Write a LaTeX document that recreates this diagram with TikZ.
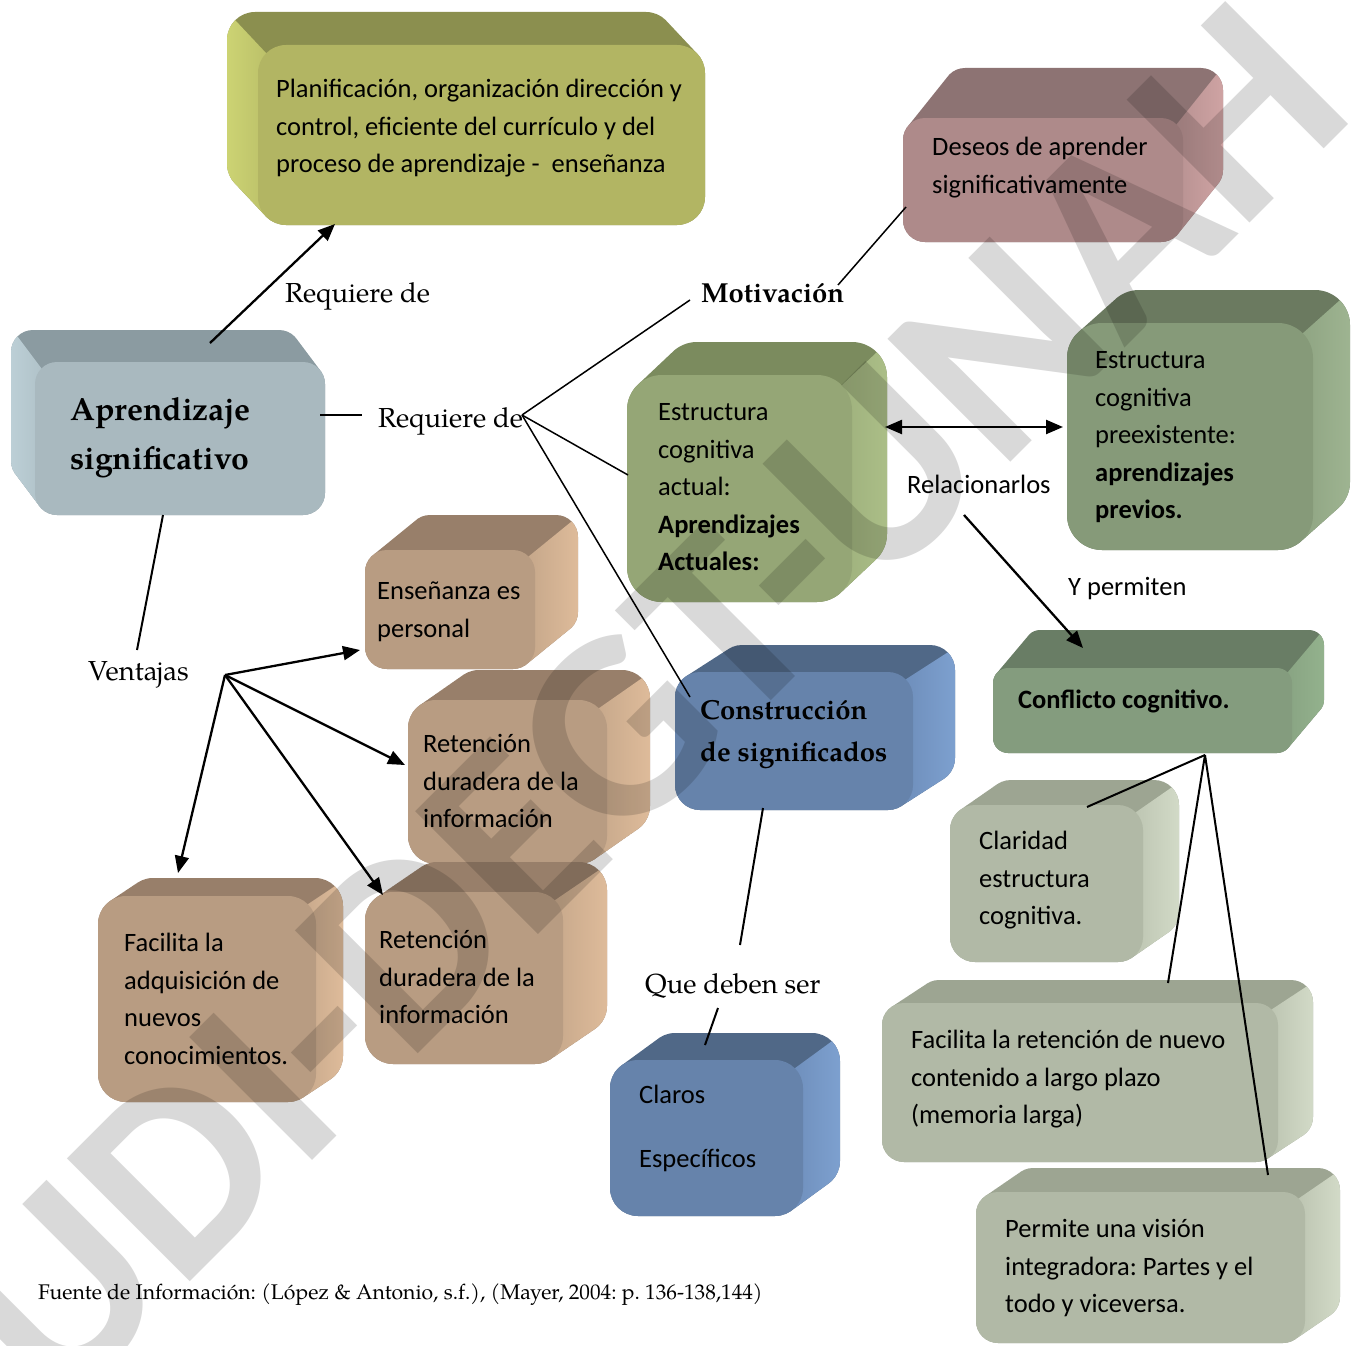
\documentclass[tikz,border=0pt]{standalone}
\usepackage{fontspec}
\setmainfont{TeX Gyre Pagella}
\setsansfont{Carlito}
\newfontfamily\markfont{Carlito}
\usetikzlibrary{arrows.meta}
\frenchspacing

% palettes: F front, T top, S outer side, D inner side
\definecolor{planF}{HTML}{B2B563}\definecolor{planT}{HTML}{8B8F4F}\definecolor{planS}{HTML}{CCD373}\definecolor{planD}{HTML}{B4B865}
\definecolor{aprF}{HTML}{A9B9BF}\definecolor{aprT}{HTML}{8B9BA1}\definecolor{aprS}{HTML}{BCCFD6}\definecolor{aprD}{HTML}{ABBCC2}
\definecolor{desF}{HTML}{AE8A8A}\definecolor{desT}{HTML}{8D7373}\definecolor{desS}{HTML}{CFA3A3}\definecolor{desD}{HTML}{B08C8C}
\definecolor{actF}{HTML}{95A676}\definecolor{actT}{HTML}{7B8B5E}\definecolor{actS}{HTML}{ABBE87}\definecolor{actD}{HTML}{98AA78}
\definecolor{preF}{HTML}{869A79}\definecolor{preT}{HTML}{6B7A60}\definecolor{preS}{HTML}{9EB491}\definecolor{preD}{HTML}{889D7C}
\definecolor{cflF}{HTML}{849C7E}\definecolor{cflT}{HTML}{697D65}\definecolor{cflS}{HTML}{93B28D}\definecolor{cflD}{HTML}{86A080}
\definecolor{blueF}{HTML}{6683AB}\definecolor{blueT}{HTML}{506887}\definecolor{blueS}{HTML}{7DA0CF}\definecolor{blueD}{HTML}{6A89B5}
\definecolor{tanF}{HTML}{B89C82}\definecolor{tanT}{HTML}{987F6A}\definecolor{tanS}{HTML}{DEBB9A}\definecolor{tanD}{HTML}{BFA286}
\definecolor{ggF}{HTML}{B1B9A6}\definecolor{ggT}{HTML}{9DA592}\definecolor{ggS}{HTML}{D2DAC7}\definecolor{ggD}{HTML}{B6BEAB}

\newcommand{\lead}{\rule{0pt}{0.8em}}

% 3D rounded block: #1 name, #2-#5 front face x1 y1 x2 y2, #6 #7 depth offset, #8 radius, #9 palette
\newcommand{\solid}[9]{%
  \pgfmathsetmacro\bw{#4-#2}%
  \pgfmathsetmacro\bh{#5-#3}%
  \fill[#9T, rounded corners=#8pt] \foreach \k in {0,...,20}{ ({#2+#6*\k/20},{#3+#7*\k/20}) rectangle ++(\bw,\bh) };
  \begin{scope}
    \ifdim #6pt>0pt
      \clip (#4-0.3*#8, #3+0.3*#8) -- ++(2*#6, 2*#7) -- (#4+#6+60, #3+2*#7) -- (#4+#6+60, #5+60) -- (#4-0.3*#8, #5+60) -- cycle;
      \clip[rounded corners=#8pt] \foreach \k in {0,...,20}{ ({#2+#6*\k/20},{#3+#7*\k/20}) rectangle ++(\bw,\bh) };
      \shade[left color=#9D, right color=#9S] (#4-#8, #3+2*#7) rectangle (#4+#6, #5+60);
    \else
      \clip (#2+0.3*#8, #3+0.3*#8) -- ++(2*#6, 2*#7) -- (#2+#6-60, #3+2*#7) -- (#2+#6-60, #5+60) -- (#2+0.3*#8, #5+60) -- cycle;
      \clip[rounded corners=#8pt] \foreach \k in {0,...,20}{ ({#2+#6*\k/20},{#3+#7*\k/20}) rectangle ++(\bw,\bh) };
      \shade[left color=#9S, right color=#9D] (#2+#6, #3+2*#7) rectangle (#2+#8, #5+60);
    \fi
  \end{scope}
  \node[fill=#9F, rounded corners=#8pt, minimum width=\bw pt, minimum height=\bh pt,
        inner sep=0pt, outer sep=0pt, anchor=north west] (#1) at (#2,#3) {};
}

\tikzset{
  boxtext/.style={anchor=north west, inner sep=0pt, align=left, font=\sffamily\fontsize{26.5}{37.5}\selectfont},
  lab/.style={anchor=base west, inner sep=0pt, font=\rmfamily\fontsize{27.5}{33}\selectfont},
  sflab/.style={anchor=base west, inner sep=0pt, font=\sffamily\fontsize{26.5}{33}\selectfont},
  arr/.style={-{Triangle[length=17pt,width=14pt]}, line width=2.3pt},
  dblarr/.style={{Triangle[length=17pt,width=14pt]}-{Triangle[length=17pt,width=14pt]}, line width=2.3pt},
  thin/.style={line width=1.5pt},
  mid/.style={line width=2pt}
}

\begin{document}
\begin{tikzpicture}[x=1pt,y=-1pt]
\useasboundingbox (0,0) rectangle (1361,1346);
\fill[white] (0,0) rectangle (1361,1346);

% blocks
\solid{plan}{258}{45}{705}{225}{-31}{-33}{28}{plan}
\solid{apr}{35}{362}{325}{515}{-24}{-32}{22}{apr}
\solid{des}{903}{118}{1183}{242}{40}{-50}{22}{des}
\solid{act}{627}{375}{852}{602}{35}{-33}{35}{act}
\solid{pre}{1067}{323}{1313}{550}{37}{-33}{35}{pre}
\solid{ens}{365}{550}{535}{669}{43}{-35}{22}{tan}
\solid{ret1}{408}{700}{607}{864}{43}{-30}{28}{tan}
\solid{ret2}{365}{892}{563}{1064}{44}{-30}{28}{tan}
\solid{fac}{98}{896}{316}{1102}{27}{-18}{28}{tan}
\solid{con}{675}{672}{913}{810}{42}{-27}{25}{blue}
\solid{clr}{610}{1060}{803}{1216}{37}{-27}{28}{blue}
\solid{cfl}{993}{668}{1292}{753}{32}{-38}{15}{cfl}
\solid{cla}{950}{805}{1143}{962}{36}{-25}{25}{gg}
\solid{fre}{882}{1003}{1278}{1162}{35}{-23}{22}{gg}
\solid{per}{976}{1192}{1305}{1343}{35}{-24}{22}{gg}

% block texts
\node[boxtext] (plan-t) at (276,76.3) {\lead Planificación, organización dirección y\\control, eficiente del currículo y del\\proceso de aprendizaje -\ \ enseñanza};
\node[boxtext, font=\rmfamily\bfseries\fontsize{32}{49}\selectfont] (apr-t) at (70,394.4) {\lead Aprendizaje\\significativo};
\node[boxtext] (des-t) at (932,134.3) {\lead Deseos de aprender\\significativamente};
\node[boxtext] (act-t) at (658,399.3) {\lead Estructura\\cognitiva\\actual:\\\textbf{Aprendizajes}\\\textbf{Actuales:}};
\node[boxtext] (pre-t) at (1095,347.3) {\lead Estructura\\cognitiva\\preexistente:\\\textbf{aprendizajes}\\\textbf{previos.}};
\node[boxtext] (ens-t) at (377,578.3) {\lead Enseñanza es\\personal};
\node[boxtext] (ret1-t) at (423,731.3) {\lead Retención\\duradera de la\\información};
\node[boxtext, font=\rmfamily\bfseries\fontsize{27.5}{42}\selectfont] (con-t) at (700,697) {\lead Construcción\\de significados};
\node[boxtext] (cfl-t) at (1018,687.3) {\lead\textbf{Conflicto cognitivo.}};
\node[boxtext] (cla-t) at (979,828.3) {\lead Claridad\\estructura\\cognitiva.};
\node[boxtext] (fac-t) at (124,930.3) {\lead Facilita la\\adquisición de\\nuevos\\conocimientos.};
\node[boxtext] (ret2-t) at (379,927.3) {\lead Retención\\duradera de la\\información};
\node[boxtext] (clr-t) at (639,1082.3) {\lead Claros\\[26.5pt]Específicos};
\node[boxtext] (fre-t) at (911,1027.3) {\lead Facilita la retención de nuevo\\contenido a largo plazo\\(memoria larga)};
\node[boxtext] (per-t) at (1005,1216.3) {\lead Permite una visión\\integradora: Partes y el\\todo y viceversa.};

% connector labels
\node[lab] (req1) at (285,302) {Requiere de};
\node[lab] (req2) at (378,427) {Requiere de};
\node[lab] (mot) at (701,302) {\textbf{Motivación}};
\node[sflab] (rel) at (907,493.5) {Relacionarlos};
\node[sflab] (yper) at (1068,595.5) {Y permiten};
\node[lab] (ven) at (88,680) {Ventajas};
\node[lab] (que) at (645,993) {Que deben ser};
\node[lab, font=\rmfamily\fontsize{21.2}{25}\selectfont] (src) at (38,1299) {Fuente de Información: (López \& Antonio, s.f.), (Mayer, 2004: p. 136-138,144)};

% connector ends
\coordinate (apr-up) at (210,343);
\coordinate (plan-in) at (335,224);
\coordinate (apr-right) at (320,415);
\coordinate (req2-in) at (362,415);
\coordinate (hub) at (522,415);
\coordinate (mot-in) at (690,300);
\coordinate (act-in) at (628,475);
\coordinate (con-in) at (690,697);
\coordinate (mot-out) at (838,285);
\coordinate (des-in) at (906,207);
\coordinate (act-out) at (885,427);
\coordinate (pre-in) at (1063,427);
\coordinate (rel-out) at (964,515);
\coordinate (cfl-in) at (1083,648);
\coordinate (cfl-out) at (1205,755);
\coordinate (cla-in) at (1087,807);
\coordinate (fre-in) at (1168,983);
\coordinate (per-in) at (1268,1175);
\coordinate (apr-down) at (163,515);
\coordinate (ven-in) at (137,650);
\coordinate (ven-hub) at (225,675);
\coordinate (ens-in) at (360,650);
\coordinate (ret1-in) at (405,765);
\coordinate (ret2-in) at (383,895);
\coordinate (fac-in) at (178,873);
\coordinate (con-out) at (763,808);
\coordinate (que-in) at (740,945);
\coordinate (que-out) at (718,1008);
\coordinate (clr-in) at (705,1045);

% connectors
\draw[arr] (apr-up) -- (plan-in);
\draw[thin] (apr-right) -- (req2-in);
\draw[thin] (hub) -- (mot-in);
\draw[thin] (hub) -- (act-in);
\draw[thin] (hub) -- (con-in);
\draw[thin] (mot-out) -- (des-in);
\draw[dblarr] (act-out) -- (pre-in);
\draw[arr] (rel-out) -- (cfl-in);
\draw[mid] (cfl-out) -- (cla-in);
\draw[mid] (cfl-out) -- (fre-in);
\draw[mid] (cfl-out) -- (per-in);
\draw[mid] (apr-down) -- (ven-in);
\draw[arr] (ven-hub) -- (ens-in);
\draw[arr] (ven-hub) -- (ret1-in);
\draw[arr] (ven-hub) -- (ret2-in);
\draw[arr] (ven-hub) -- (fac-in);
\draw[mid] (con-out) -- (que-in);
\draw[mid] (que-out) -- (clr-in);

% diagonal watermark
\node[rotate=45, inner sep=0pt, text=black, text opacity=0.15,
      font=\markfont\bfseries\fontsize{268}{280}\selectfont] (mark) at (646,704) {UDI-DEGT-UNAH};
\end{tikzpicture}
\end{document}
